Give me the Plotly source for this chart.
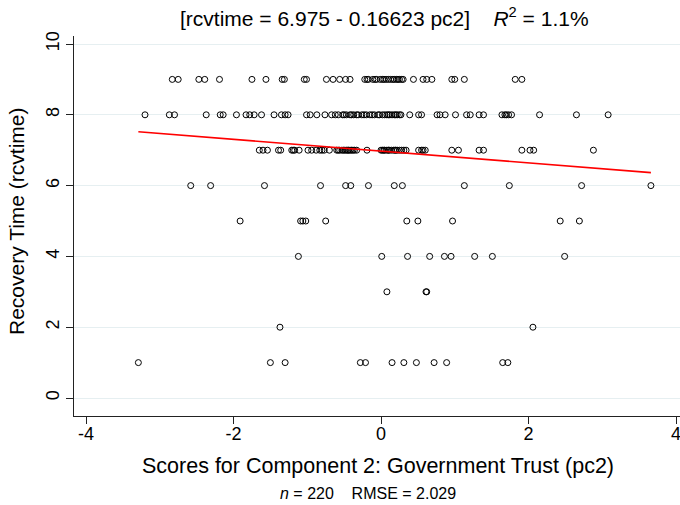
import numpy as np
import plotly.graph_objects as go

# Scores for component 2 (pc2), grouped by recovery time value
pc2_rcv9 = [-2.83, -2.75, -2.47, -2.39, -2.19, -1.75, -1.56, -1.34, -1.31, -1.04, -1.01,
            -0.74, -0.65, -0.56, -0.48, -0.42, -0.22, -0.17, -0.11, -0.06, -0.01, 0.04,
            0.10, 0.16, 0.21, 0.25, 0.30, 0.44, 0.57, 0.62, 0.69, 0.96, 1.00, 1.13, 1.82, 1.91,
            0.02, 0.07, 0.13, 0.18, 0.23, -0.08, -0.19, 0.28]
pc2_rcv8 = [-3.20, -2.87, -2.80, -2.37, -2.18, -2.14, -1.96, -1.83, -1.78, -1.72, -1.62,
            -1.45, -1.35, -1.30, -1.26, -1.01, -0.96, -0.87, -0.76, -0.67, -0.62, -0.58,
            -0.52, -0.47, -0.42, -0.37, -0.31, -0.26, -0.20, -0.15, -0.09, -0.04, 0.02,
            0.08, 0.12, 0.18, 0.22, 0.27, 0.39, 0.51, 0.55, 0.76, 0.80, 0.87, 1.01, 1.16,
            1.21, 1.33, 1.39, 1.64, 1.68, 1.73, 1.77, 2.15, 2.65, 3.08,
            -0.50, -0.40, -0.33, -0.23, -0.12, -0.02, 0.05, 0.10, 0.15, 0.20, 0.25, 1.70]
pc2_rcv7 = [-1.65, -1.60, -1.54, -1.39, -1.36, -1.21, -1.17, -1.11, -0.99, -0.94, -0.88,
            -0.83, -0.77, -0.70, -0.60, -0.56, -0.51, -0.47, -0.42, -0.38, -0.33, -0.19,
            0.00, 0.05, 0.11, 0.17, 0.22, 0.28, 0.34, 0.51, 0.55, 0.60, 0.96, 1.05, 1.33,
            1.39, 1.91, 2.02, 2.07, 2.88,
            -0.45, -0.40, -0.36, -0.53, -0.58, -0.44, -0.49, 0.02, 0.08, 0.14, 0.19, 0.25,
            0.31, 0.04, 0.10, 0.20, -1.19, -0.80, 0.57]
pc2_rcv6 = [-2.58, -2.31, -1.58, -0.82, -0.48, -0.41, -0.17, 0.18, 0.29, 1.13, 1.74, 2.72, 3.66]
pc2_rcv5 = [-1.91, -1.09, -1.06, -1.02, -0.75, 0.35, 0.50, 0.97, 2.43, 2.69]
pc2_rcv4 = [-1.12, 0.01, 0.36, 0.66, 0.86, 0.95, 1.27, 1.51, 2.49]
pc2_rcv3 = [0.08, 0.61, 0.62]
pc2_rcv2 = [-1.37, 2.06]
pc2_rcv1 = [-3.29, -1.50, -1.30, -0.28, -0.21, 0.15, 0.31, 0.48, 0.72, 0.89, 1.65, 1.72]

groups = {9: pc2_rcv9, 8: pc2_rcv8, 7: pc2_rcv7, 6: pc2_rcv6, 5: pc2_rcv5,
          4: pc2_rcv4, 3: pc2_rcv3, 2: pc2_rcv2, 1: pc2_rcv1}

# Fit reported in the title
intercept = 6.975
slope = -0.16623

x_ticks = [-4, -2, 0, 2, 4]
y_ticks = [0, 2, 4, 6, 8, 10]

xs, ys = [], []
for rv, vals in groups.items():
    xs += vals
    ys += [rv] * len(vals)
xs = np.array(xs)
ys = np.array(ys)

FONT = "Liberation Sans, Arial, Helvetica, sans-serif"

fig = go.Figure()
fig.add_trace(go.Scatter(
    x=xs, y=ys, mode="markers",
    marker=dict(symbol="circle-open", size=6, color="black", line=dict(width=1, color="black")),
    showlegend=False, hoverinfo="x+y"))

xl = np.array([xs.min(), xs.max()])
fig.add_trace(go.Scatter(
    x=xl, y=intercept + slope * xl, mode="lines",
    line=dict(color="#FF0000", width=1.6), showlegend=False))

W, H = 680, 505
ml, mr, mt, mb = 74, 0, 36, 89
x0px, xunit = 381.0, 73.75
y0px, yunit = 398.0, 35.4

xr = [(ml - x0px) / xunit, (W - mr - x0px) / xunit]
yr = [(y0px - (H - mb)) / yunit, (y0px - mt) / yunit]

fig.update_layout(
    width=W, height=H,
    margin=dict(l=ml, r=mr, t=mt, b=mb, pad=0),
    paper_bgcolor="white", plot_bgcolor="white",
    font=dict(family=FONT, color="black", size=18),
    xaxis=dict(range=xr, tickvals=x_ticks, ticktext=[str(v) for v in x_ticks],
               showgrid=False, zeroline=False, showline=True, linecolor="#222222", linewidth=1,
               ticks="outside", ticklen=7, tickcolor="#222222", tickwidth=1,
               ticklabelstandoff=-6,
               ticklabeloverflow="allow", tickfont=dict(size=18)),
    yaxis=dict(range=yr, tickvals=y_ticks, ticktext=[str(v) for v in y_ticks],
               showgrid=True, gridcolor="#E6EFF1", gridwidth=1,
               zeroline=False, showline=True, linecolor="#222222", linewidth=1,
               ticks="outside", ticklen=7, tickcolor="#222222", tickwidth=1,
               tickangle=-90, tickfont=dict(size=18)),
    annotations=[
        dict(text="[rcvtime = 6.975 - 0.16623 pc2]\u00a0\u00a0\u00a0\u00a0<i>R</i><sup>2</sup> = 1.1%",
             xref="paper", yref="paper", x=(384 - ml) / (W - ml - mr),
             y=1 + (mt - 17) / (H - mt - mb), xanchor="center", yanchor="middle",
             showarrow=False, font=dict(size=21)),
        dict(text="Scores for Component 2: Government Trust (pc2)",
             xref="paper", yref="paper", x=(378 - ml) / (W - ml - mr),
             y=-(466 - (H - mb)) / (H - mt - mb), xanchor="center", yanchor="middle",
             showarrow=False, font=dict(size=21.5)),
        dict(text="<i>n</i> = 220\u00a0\u00a0\u00a0\u00a0RMSE = 2.029",
             xref="paper", yref="paper", x=(368 - ml) / (W - ml - mr),
             y=-(493 - (H - mb)) / (H - mt - mb), xanchor="center", yanchor="middle",
             showarrow=False, font=dict(size=16)),
        dict(text="Recovery Time (rcvtime)", textangle=-90,
             xref="paper", yref="paper", x=-(ml - 17) / (W - ml - mr),
             y=(H - mb - 221) / (H - mt - mb), xanchor="center", yanchor="middle",
             showarrow=False, font=dict(size=21)),
    ],
)

fig.write_html("out.html")
